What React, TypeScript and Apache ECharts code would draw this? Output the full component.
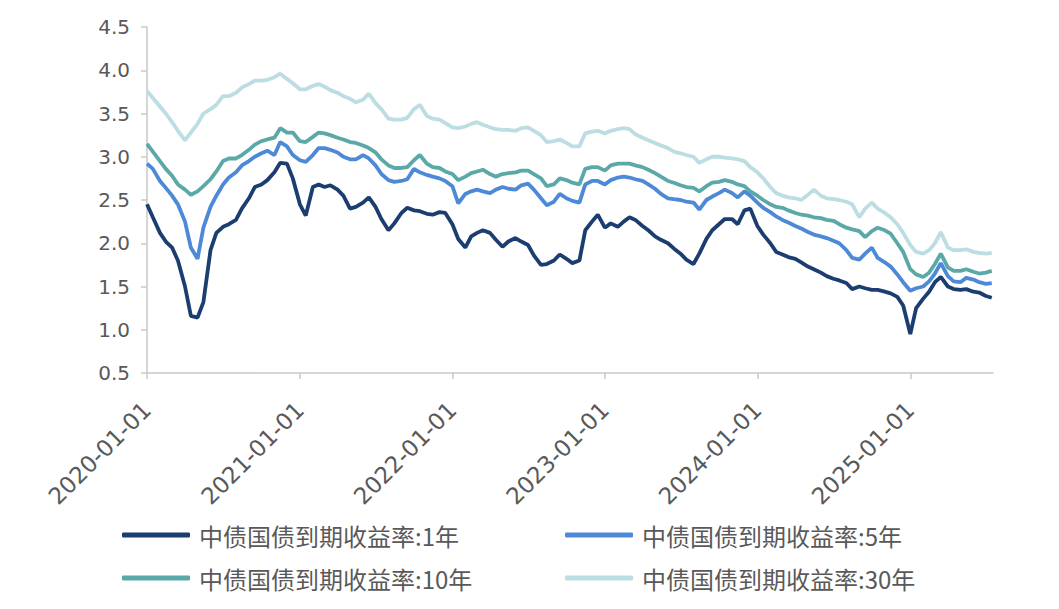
import React, { useEffect, useRef } from "react";
import * as echarts from "echarts";

// Semi-monthly observation dates (1st and 15th of each month), 2020-01-01 .. 2025-07-15
const dates: string[] = [];
for (let y = 2020; y <= 2025; y++) {
  for (let m = 1; m <= 12; m++) {
    if (y === 2025 && m > 7) break;
    const mm = String(m).padStart(2, "0");
    dates.push(`${y}-${mm}-01`, `${y}-${mm}-15`);
  }
}

const seriesNames = [
  "中债国债到期收益率:1年",
  "中债国债到期收益率:5年",
  "中债国债到期收益率:10年",
  "中债国债到期收益率:30年",
];

const yield1Y = [
  2.45, 2.30, 2.12, 2.02, 1.95, 1.80, 1.50, 1.16, 1.14, 1.32, 1.92, 2.12, 2.19, 2.22, 2.27, 2.40, 2.52, 2.65, 2.68, 2.73, 2.82, 2.93, 2.92, 2.75,
  2.45, 2.32, 2.65, 2.68, 2.65, 2.67, 2.62, 2.55, 2.40, 2.42, 2.47, 2.53, 2.42, 2.28, 2.15, 2.23, 2.35, 2.41, 2.38, 2.37, 2.34, 2.33, 2.36, 2.35,
  2.22, 2.05, 1.95, 2.08, 2.12, 2.15, 2.12, 2.04, 1.96, 2.02, 2.06, 2.02, 1.98, 1.86, 1.75, 1.76, 1.80, 1.87, 1.82, 1.77, 1.80, 2.15, 2.25, 2.33,
  2.18, 2.23, 2.19, 2.25, 2.30, 2.27, 2.20, 2.15, 2.08, 2.04, 2.00, 1.94, 1.88, 1.81, 1.76, 1.88, 2.05, 2.15, 2.22, 2.28, 2.28, 2.22, 2.38, 2.40,
  2.20, 2.10, 2.00, 1.90, 1.87, 1.84, 1.82, 1.78, 1.73, 1.70, 1.66, 1.62, 1.59, 1.57, 1.54, 1.47, 1.50, 1.48, 1.46, 1.46, 1.44, 1.42, 1.38, 1.28,
  0.95, 1.25, 1.36, 1.44, 1.55, 1.61, 1.50, 1.47, 1.46, 1.47, 1.44, 1.43, 1.39, 1.37,
];

const yield5Y = [
  2.92, 2.86, 2.72, 2.64, 2.55, 2.45, 2.25, 1.95, 1.82, 2.18, 2.42, 2.55, 2.68, 2.76, 2.82, 2.90, 2.95, 3.00, 3.04, 3.07, 3.02, 3.17, 3.12, 3.02,
  2.96, 2.94, 3.02, 3.10, 3.10, 3.08, 3.05, 3.00, 2.97, 2.97, 3.02, 2.98, 2.90, 2.80, 2.73, 2.71, 2.72, 2.74, 2.86, 2.82, 2.79, 2.77, 2.75, 2.72,
  2.66, 2.46, 2.57, 2.60, 2.62, 2.60, 2.58, 2.62, 2.65, 2.63, 2.62, 2.67, 2.69, 2.62, 2.52, 2.44, 2.48, 2.57, 2.52, 2.49, 2.47, 2.68, 2.72, 2.72,
  2.68, 2.73, 2.76, 2.77, 2.76, 2.74, 2.72, 2.68, 2.63, 2.57, 2.52, 2.51, 2.50, 2.48, 2.47, 2.39, 2.50, 2.54, 2.58, 2.62, 2.58, 2.53, 2.60, 2.55,
  2.47, 2.41, 2.36, 2.31, 2.27, 2.24, 2.20, 2.17, 2.13, 2.10, 2.08, 2.06, 2.03, 2.00, 1.92, 1.83, 1.81, 1.88, 1.95, 1.83, 1.78, 1.73, 1.64, 1.55,
  1.45, 1.48, 1.50, 1.56, 1.65, 1.77, 1.62, 1.56, 1.55, 1.60, 1.58, 1.55, 1.53, 1.54,
];

const yield10Y = [
  3.15, 3.06, 2.95, 2.86, 2.78, 2.68, 2.62, 2.56, 2.60, 2.66, 2.74, 2.83, 2.95, 2.98, 2.98, 3.02, 3.08, 3.14, 3.18, 3.20, 3.22, 3.33, 3.28, 3.28,
  3.18, 3.17, 3.23, 3.28, 3.27, 3.25, 3.22, 3.20, 3.17, 3.16, 3.13, 3.10, 3.05, 2.97, 2.90, 2.87, 2.87, 2.88, 2.96, 3.02, 2.92, 2.88, 2.87, 2.83,
  2.80, 2.73, 2.77, 2.81, 2.83, 2.85, 2.80, 2.77, 2.80, 2.81, 2.82, 2.84, 2.84, 2.80, 2.75, 2.66, 2.68, 2.75, 2.73, 2.70, 2.68, 2.86, 2.88, 2.88,
  2.84, 2.90, 2.92, 2.92, 2.92, 2.90, 2.88, 2.85, 2.81, 2.77, 2.72, 2.70, 2.67, 2.65, 2.64, 2.60, 2.66, 2.70, 2.71, 2.73, 2.71, 2.68, 2.66, 2.60,
  2.55, 2.50, 2.45, 2.42, 2.41, 2.38, 2.35, 2.33, 2.32, 2.30, 2.29, 2.27, 2.26, 2.22, 2.18, 2.16, 2.14, 2.07, 2.14, 2.18, 2.15, 2.11, 2.00, 1.90,
  1.70, 1.64, 1.61, 1.66, 1.76, 1.88, 1.72, 1.68, 1.68, 1.70, 1.67, 1.65, 1.66, 1.68,
];

const yield30Y = [
  3.76, 3.68, 3.58, 3.50, 3.40, 3.30, 3.19, 3.28, 3.38, 3.50, 3.55, 3.60, 3.70, 3.70, 3.74, 3.80, 3.84, 3.88, 3.88, 3.89, 3.92, 3.96, 3.90, 3.85,
  3.78, 3.78, 3.82, 3.84, 3.81, 3.77, 3.74, 3.70, 3.67, 3.63, 3.66, 3.73, 3.62, 3.55, 3.44, 3.43, 3.43, 3.45, 3.55, 3.60, 3.47, 3.44, 3.43, 3.39,
  3.34, 3.33, 3.35, 3.38, 3.40, 3.37, 3.34, 3.32, 3.31, 3.31, 3.30, 3.33, 3.34, 3.30, 3.25, 3.17, 3.18, 3.20, 3.16, 3.12, 3.12, 3.27, 3.29, 3.30,
  3.27, 3.30, 3.32, 3.33, 3.32, 3.26, 3.22, 3.19, 3.16, 3.13, 3.10, 3.06, 3.04, 3.02, 3.00, 2.93, 2.97, 3.00, 3.00, 2.99, 2.98, 2.97, 2.95, 2.88,
  2.82, 2.75, 2.65, 2.58, 2.55, 2.53, 2.52, 2.50, 2.56, 2.62, 2.55, 2.52, 2.51, 2.50, 2.48, 2.45, 2.30, 2.40, 2.47, 2.40, 2.35, 2.30, 2.22, 2.12,
  1.98, 1.90, 1.88, 1.92, 2.00, 2.13, 1.95, 1.92, 1.92, 1.93, 1.90, 1.89, 1.88, 1.89,
];

const colors = ["#1b3d70", "#4d89d6", "#5ba8a8", "#bcdde2"];
const allValues = [yield1Y, yield5Y, yield10Y, yield30Y];

const AXIS_GRAY = "#c8c8c8";
const TEXT_GRAY = "#595959";

export default function App() {
  const ref = useRef<HTMLDivElement>(null);

  useEffect(() => {
    if (!ref.current) return;
    const chart = echarts.init(ref.current, undefined, { renderer: "svg" });

    const legendPos = [
      { left: 117, top: 518 },
      { left: 560, top: 518 },
      { left: 117, top: 561 },
      { left: 560, top: 561 },
    ];

    const pad2 = (n: number) => String(n).padStart(2, "0");

    chart.setOption({
      animation: false,
      backgroundColor: "#ffffff",
      grid: { left: 147, right: 66, top: 27, bottom: 236, containLabel: false },
      legend: seriesNames.map((name, i) => ({
        data: [name],
        left: legendPos[i].left,
        top: legendPos[i].top,
        icon: "roundRect",
        itemWidth: 68,
        itemHeight: 5,
        selectedMode: false,
        textStyle: {
          fontSize: 24,
          color: TEXT_GRAY,
          fontFamily: "Noto Sans CJK SC",
          padding: [0, 0, 0, 4],
        },
      })),
      xAxis: {
        type: "time",
        min: "2020-01-01",
        max: "2025-07-18",
        minInterval: 365 * 24 * 3600 * 1000,
        maxInterval: 366 * 24 * 3600 * 1000,
        axisLine: { show: true, lineStyle: { color: AXIS_GRAY, width: 1.5 } },
        axisTick: { show: true, length: 6, lineStyle: { color: AXIS_GRAY, width: 1.5 } },
        splitLine: { show: false },
        axisLabel: {
          rotate: 45,
          margin: 33,
          fontSize: 23,
          color: TEXT_GRAY,
          fontFamily: "DejaVu Sans",
          formatter: (val: number) => {
            const d = new Date(val);
            return `${d.getFullYear()}-${pad2(d.getMonth() + 1)}-${pad2(d.getDate())}`;
          },
        },
      },
      yAxis: {
        type: "value",
        min: 0.5,
        max: 4.5,
        interval: 0.5,
        axisLine: { show: true, lineStyle: { color: AXIS_GRAY, width: 1.5 } },
        axisTick: { show: true, length: 6, lineStyle: { color: AXIS_GRAY, width: 1.5 } },
        splitLine: { show: false },
        axisLabel: {
          margin: 17,
          fontSize: 20,
          color: TEXT_GRAY,
          fontFamily: "DejaVu Sans",
          formatter: (v: number) => v.toFixed(1),
        },
      },
      series: seriesNames.map((name, i) => ({
        name,
        type: "line",
        showSymbol: false,
        symbol: "none",
        color: colors[i],
        lineStyle: { color: colors[i], width: 3.8 },
        z: 10 - i,
        data: dates.map((d, k) => [d, allValues[i][k]]),
      })),
    });

    return () => chart.dispose();
  }, []);

  return (
    <div
      ref={ref}
      style={{ position: "absolute", left: 0, top: 0, width: 1059, height: 609 }}
    />
  );
}
